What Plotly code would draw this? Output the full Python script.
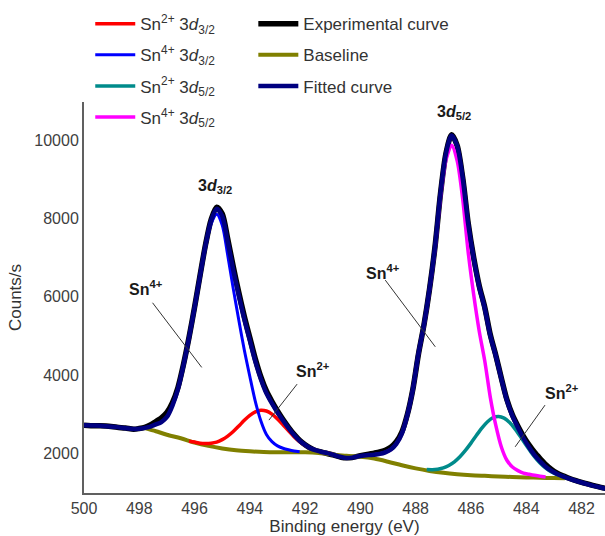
import plotly.graph_objects as go

# ---------------- data ----------------
energy_fit = [500.0, 499.6, 499.2, 498.8, 498.5, 498.2, 498.0, 497.8, 497.6, 497.4, 497.2, 497.0,
              496.8, 496.6, 496.4, 496.2, 496.0, 495.8, 495.6, 495.4, 495.2, 495.0, 494.8, 494.6,
              494.4, 494.2, 494.0, 493.8, 493.6, 493.4, 493.2, 493.0, 492.8, 492.6, 492.4, 492.2,
              492.0, 491.8, 491.6, 491.4, 491.2, 491.0, 490.7, 490.5, 490.3, 490.0, 489.7, 489.5,
              489.3, 489.1, 488.9, 488.7, 488.5, 488.3, 488.1, 487.9, 487.7, 487.5, 487.3, 487.1,
              486.9, 486.7, 486.5, 486.3, 486.1, 485.9, 485.7, 485.5, 485.3, 485.1, 484.9, 484.7,
              484.5, 484.3, 484.1, 483.9, 483.7, 483.5, 483.3, 483.1, 482.9, 482.7, 482.5, 482.2,
              481.9, 481.6, 481.3, 481.0]
fitted_counts = [2710, 2705, 2690, 2665, 2635, 2615, 2625, 2645, 2680, 2735, 2795, 2925,
                 3217, 3640, 4250, 4950, 5720, 6540, 7330, 7950, 8250, 8060, 7400, 6680,
                 6030, 5420, 4880, 4340, 3890, 3530, 3270, 3040, 2834, 2638, 2462, 2317,
                 2211, 2121, 2069, 2030, 2001, 1960, 1900, 1875, 1885, 1925, 1950, 1960,
                 1980, 2021, 2092, 2236, 2500, 2978, 3640, 4543, 5281, 6194, 7280, 8657,
                 9671, 10126, 9858, 9038, 7859, 6975, 6249, 5700, 5000, 4480, 3900, 3350,
                 2950, 2650, 2380, 2150, 1950, 1790, 1650, 1550, 1470, 1410, 1360, 1290,
                 1230, 1170, 1120, 1075]
experimental_counts = [2715, 2700, 2695, 2660, 2640, 2610, 2630, 2660, 2720, 2810, 2900, 3040,
                       3290, 3680, 4270, 4960, 5730, 6550, 7340, 7970, 8290, 8120, 7480, 6770,
                       6110, 5500, 4950, 4410, 3950, 3590, 3320, 3080, 2860, 2660, 2480, 2330,
                       2215, 2125, 2060, 2025, 1990, 1955, 1895, 1880, 1890, 1935, 1975, 2000,
                       2030, 2075, 2150, 2290, 2540, 2990, 3640, 4530, 5280, 6190, 7280, 8650,
                       9680, 10140, 9870, 9050, 7880, 7000, 6280, 5730, 5030, 4500, 3920, 3370,
                       2980, 2690, 2430, 2210, 2020, 1860, 1710, 1590, 1495, 1425, 1370, 1295,
                       1235, 1175, 1125, 1080]

energy_base = [497.8, 497.4, 497.0, 496.5, 496.0, 495.5, 495.0, 494.5, 494.0, 493.5, 493.0, 492.5,
               492.0, 491.5, 491.0, 490.5, 490.0, 489.5, 489.0, 488.5, 488.0, 487.5, 487.0, 486.5,
               486.0, 485.5, 485.0, 484.5, 484.0, 483.5, 483.0, 482.6]
baseline_counts = [2640, 2560, 2470, 2380, 2270, 2185, 2120, 2072, 2045, 2027, 2020, 2020,
                   2020, 2002, 1965, 1930, 1905, 1860, 1780, 1690, 1610, 1545, 1495, 1460,
                   1435, 1418, 1403, 1390, 1378, 1370, 1362, 1355]

energy_sn4_32 = [497.8, 497.6, 497.4, 497.2, 497.0, 496.8, 496.6, 496.4, 496.2, 496.0, 495.8, 495.6,
                 495.4, 495.2, 495.0, 494.8, 494.6, 494.4, 494.2, 494.0, 493.8, 493.6, 493.4, 493.2,
                 493.0, 492.8, 492.6, 492.4, 492.2]
sn4_32_counts = [2645, 2680, 2735, 2795, 2925, 3217, 3640, 4247, 4944, 5708, 6515, 7282,
                 7865, 8108, 7835, 7064, 6207, 5403, 4637, 3959, 3318, 2822, 2478, 2293,
                 2185, 2125, 2085, 2055, 2035]

energy_sn2_32 = [496.2, 496.0, 495.8, 495.6, 495.4, 495.2, 495.0, 494.8, 494.6, 494.4, 494.2, 494.0,
                 493.8, 493.6, 493.4, 493.2, 493.0, 492.8, 492.6, 492.4, 492.2, 492.0, 491.8, 491.6,
                 491.4, 491.2, 491.0]
sn2_32_counts = [2306, 2282, 2255, 2248, 2255, 2282, 2345, 2436, 2553, 2692, 2838, 2966,
                 3057, 3098, 3077, 2999, 2875, 2725, 2568, 2422, 2297, 2201, 2121, 2069,
                 2030, 2001, 1974]

energy_sn4_52 = [489.7, 489.5, 489.3, 489.1, 488.9, 488.7, 488.5, 488.3, 488.1, 487.9, 487.7, 487.5,
                 487.3, 487.1, 486.9, 486.7, 486.5, 486.3, 486.1, 485.9, 485.7, 485.5, 485.3, 485.1,
                 484.9, 484.7, 484.5, 484.3, 484.1, 483.9, 483.7, 483.5, 483.3]
sn4_52_counts = [1950, 1960, 1980, 2021, 2092, 2236, 2500, 2978, 3640, 4535, 5265, 6163,
                 7224, 8559, 9510, 9874, 9482, 8504, 7139, 6050, 5119, 4356, 3426, 2708,
                 2157, 1817, 1645, 1552, 1488, 1460, 1433, 1410, 1392]

energy_sn2_52 = [487.6, 487.4, 487.2, 487.0, 486.8, 486.6, 486.4, 486.2, 486.0, 485.8, 485.6, 485.4,
                 485.2, 485.0, 484.8, 484.6, 484.4, 484.2, 484.0, 483.8, 483.6, 483.4, 483.2, 483.0,
                 482.8, 482.6]
sn2_52_counts = [1580, 1577, 1590, 1621, 1684, 1777, 1906, 2069, 2256, 2457, 2647, 2804,
                 2906, 2938, 2895, 2781, 2614, 2411, 2199, 1998, 1822, 1678, 1568, 1488,
                 1433, 1397]

x_ticks = [500, 498, 496, 494, 492, 490, 488, 486, 484, 482]
y_ticks = [2000, 4000, 6000, 8000, 10000]

# peak labels: (text, energy, counts)
peak_labels = [
    ("<b>3<i>d</i><sub>3/2</sub></b>", 495.25, 8830),
    ("<b>3<i>d</i><sub>5/2</sub></b>", 486.62, 10720),
    ("<b>Sn<sup>4+</sup></b>", 497.75, 6230),
    ("<b>Sn<sup>2+</sup></b>", 491.7, 4130),
    ("<b>Sn<sup>4+</sup></b>", 489.2, 6640),
    ("<b>Sn<sup>2+</sup></b>", 482.72, 3570),
]
# leader lines: (E0, C0, E1, C1)
leader_lines = [
    (497.52, 5845, 495.74, 4192),
    (492.29, 3765, 493.31, 2844),
    (489.10, 6425, 487.29, 4719),
    (483.32, 3228, 484.40, 2161),
]

FONT = "Arial, Liberation Sans, sans-serif"

fig = go.Figure()

def add(x, y, name, color, width, legend):
    fig.add_trace(go.Scatter(
        x=x, y=y, mode="lines", name=name, legend=legend, legendgroup=name,
        line=dict(color=color, width=width, shape="spline", smoothing=0.8),
    ))

add(energy_fit, experimental_counts, "Experimental curve", "#000000", 5.5, "legend2")
add(energy_base, baseline_counts, "Baseline", "#808000", 4, "legend2")
add(energy_sn2_32, sn2_32_counts, "Sn<sup>2+</sup> 3<i>d</i><sub>3/2</sub>", "#ff0000", 3.5, "legend")
add(energy_sn4_32, sn4_32_counts, "Sn<sup>4+</sup> 3<i>d</i><sub>3/2</sub>", "#0000ff", 3, "legend")
add(energy_sn2_52, sn2_52_counts, "Sn<sup>2+</sup> 3<i>d</i><sub>5/2</sub>", "#008b8b", 3.5, "legend")
add(energy_sn4_52, sn4_52_counts, "Sn<sup>4+</sup> 3<i>d</i><sub>5/2</sub>", "#ff00ff", 3.5, "legend")
add(energy_fit, fitted_counts, "Fitted curve", "#000080", 4.5, "legend2")

for text, ex, cy in peak_labels:
    fig.add_annotation(x=ex, y=cy, text=text, showarrow=False, xref="x", yref="y",
                       font=dict(family=FONT, size=16, color="#1a1a1a"))
for e0, c0, e1, c1 in leader_lines:
    fig.add_shape(type="line", x0=e0, y0=c0, x1=e1, y1=c1, xref="x", yref="y",
                  line=dict(color="#333333", width=1))

axis_common = dict(showline=True, linecolor="#606060", linewidth=2, ticks="",
                   showgrid=False, zeroline=False, mirror=False,
                   tickfont=dict(family=FONT, size=16, color="#404040"))

leg_common = dict(bgcolor="rgba(0,0,0,0)", borderwidth=0, orientation="v",
                  xanchor="left", yanchor="top", itemwidth=40,
                  font=dict(family=FONT, size=17, color="#333333"),
                  tracegroupgap=6, traceorder="grouped")

fig.update_layout(
    width=605, height=536, autosize=False,
    margin=dict(l=84, r=0, t=102, b=43),
    paper_bgcolor="white", plot_bgcolor="white",
    font=dict(family=FONT, color="#333333"),
    xaxis=dict(range=[500, 481.15], tickmode="array", tickvals=x_ticks,
               ticktext=[str(v) for v in x_ticks],
               title=dict(text="Binding energy (eV)", standoff=4,
                          font=dict(family=FONT, size=17, color="#333333")),
               **axis_common),
    yaxis=dict(range=[980, 10980], tickmode="array", tickvals=y_ticks,
               ticktext=[str(v) for v in y_ticks],
               title=dict(text="Counts/s", standoff=8,
                          font=dict(family=FONT, size=17, color="#333333")),
               **axis_common),
    legend=dict(x=0.012, y=1.245, **leg_common),
    legend2=dict(x=0.325, y=1.245, **leg_common),
)

fig.write_html("out.html")
